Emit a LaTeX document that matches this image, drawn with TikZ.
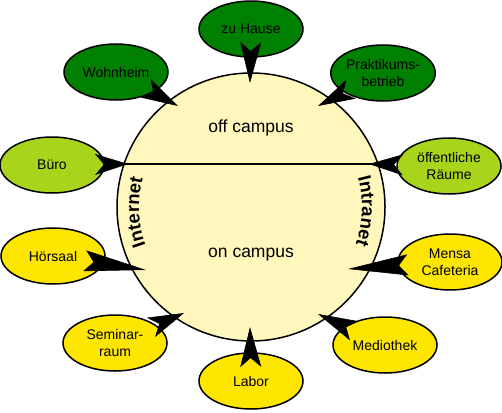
\documentclass[tikz,border=0pt]{standalone}
\usepackage{fontspec}
\setmainfont{Liberation Sans}
\usetikzlibrary{shapes.geometric,arrows.meta,decorations.text,calc}
\definecolor{dgreen}{RGB}{0,128,0}
\definecolor{lgreen}{RGB}{168,212,28}
\definecolor{yel}{RGB}{255,230,0}
\definecolor{circfill}{RGB}{255,247,187}
\begin{document}
\begin{tikzpicture}[x=1pt,y=-1pt,
 place/.style={ellipse,draw=black,line width=1.5pt,minimum width=104pt,minimum height=56pt,inner sep=0pt,align=center,font=\fontsize{14}{17}\selectfont},
 offc/.style={place,fill=dgreen},
 semic/.style={place,fill=lgreen},
 onc/.style={place,fill=yel},
 arr/.style={draw=white,line width=0.6pt,-{Stealth[length=#1,width=21pt,inset=9pt,color=black]}},
 bigtext/.style={font=\fontsize{17.5}{20}\selectfont}
]
\useasboundingbox (0,0) rectangle (502,412);
\node[circle,draw=black,line width=1.5pt,fill=circfill,minimum size=268pt,inner sep=0pt] (c) at (251,207) {};
\draw[line width=1.2pt] ($(c.center)+(-127,-43)$) -- ($(c.center)+(127,-43)$);
\node[bigtext] (offt) at (251,128) {off campus};
\node[bigtext] (ont) at (251,255) {on campus};
\begin{scope}[shift={(c.center)},y=1pt]
\path[decorate,decoration={text along path,text align=center,
  text={|\bfseries\fontsize{18.5}{18.5}\selectfont|Internet}}] (208:112) arc (208:157:112);
\path[decorate,decoration={text along path,text align=center,
  text={|\bfseries\fontsize{18.5}{18.5}\selectfont|Intranet}}] (24:111) arc (24:-28:111);
\end{scope}
\node[offc] (home) at (251,29) {zu Hause};
\node[offc] (wohn) at (116,72) {Wohnheim};
\node[offc] (prak) at (383,73) {Praktikums-\\betrieb};
\node[semic] (buero) at (52,165) {Büro};
\node[semic] (oeff) at (449,166) {öffentliche\\Räume};
\node[onc] (hoer) at (53,256) {Hörsaal};
\node[onc] (sem) at (115,343) {Seminar-\\raum};
\node[onc] (labor) at (251,381) {Labor};
\node[onc] (mensa) at (450,262) {Mensa\\Cafeteria};
\node[onc] (medio) at (385,345) {Mediothek};
\coordinate (tHome) at (250,83);
\coordinate (tWohn) at (178,106);
\coordinate (tPrak) at (318,106);
\coordinate (tBuero) at (128,164);
\coordinate (tOeff) at (369,164);
\coordinate (tHoer) at (146,270);
\coordinate (tSem) at (184,313);
\coordinate (tLab) at (250,327);
\coordinate (tMensa) at (348,269);
\coordinate (tMedio) at (318,314);
\draw[arr=41pt] (home) -- (tHome);
\draw[arr=37pt] (wohn) -- (tWohn);
\draw[arr=37pt] (prak) -- (tPrak);
\draw[arr=33pt] (buero) -- (tBuero);
\draw[arr=34pt] (oeff) -- (tOeff);
\draw[arr=62pt] (hoer) -- (tHoer);
\draw[arr=36pt] (sem) -- (tSem);
\draw[arr=40pt] (labor) -- (tLab);
\draw[arr=60pt] (mensa) -- (tMensa);
\draw[arr=40pt] (medio) -- (tMedio);
\end{tikzpicture}
\end{document}
